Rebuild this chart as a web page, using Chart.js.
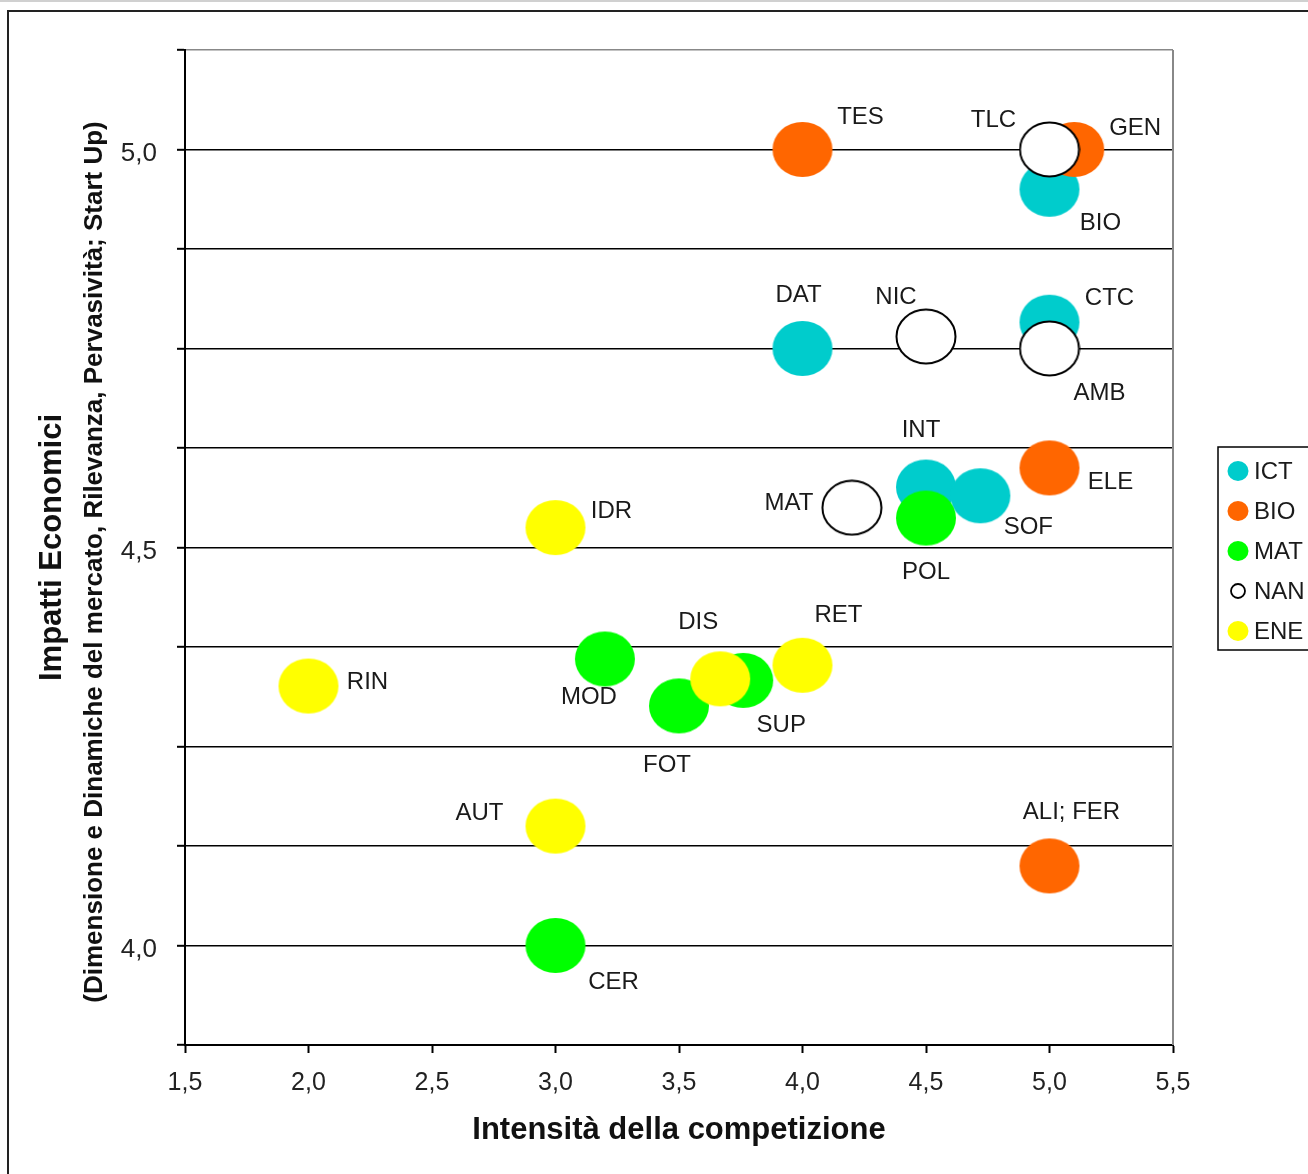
<!DOCTYPE html>
<html>
<head>
<meta charset="utf-8">
<script src="https://cdn.jsdelivr.net/npm/chart.js@4.4.1/dist/chart.umd.min.js"></script>
<style>
html,body{margin:0;padding:0;background:#fff;overflow:hidden;}
canvas{display:block;}
</style>
</head>
<body>
<canvas id="c" width="1308" height="1174"></canvas>
<script>
// ---------- DATA ----------
const categories = ['ICT', 'BIO', 'MAT', 'NAN', 'ENE'];

const ictNames = ['BIO', 'CTC', 'DAT', 'INT', 'SOF'];
const ictX     = [5.0, 5.0, 4.0, 4.5, 4.72];
const ictY     = [4.95, 4.783, 4.75, 4.576, 4.565];

const bioNames = ['TES', 'GEN', 'ELE', 'ALI; FER'];
const bioX     = [4.0, 5.1, 5.0, 5.0];
const bioY     = [5.0, 5.0, 4.6, 4.1];

const matNames = ['POL', 'MOD', 'SUP', 'FOT', 'CER'];
const matX     = [4.5, 3.2, 3.76, 3.5, 3.0];
const matY     = [4.537, 4.36, 4.333, 4.301, 4.0];

const nanNames = ['TLC', 'NIC', 'AMB', 'MAT'];
const nanX     = [5.0, 4.5, 5.0, 4.2];
const nanY     = [5.0, 4.765, 4.75, 4.55];

const eneNames = ['IDR', 'RIN', 'DIS', 'RET', 'AUT'];
const eneX     = [3.0, 2.0, 3.667, 4.0, 3.0];
const eneY     = [4.525, 4.326, 4.335, 4.352, 4.15];

const xTitle = 'Intensità della competizione';
const yTitleMain = 'Impatti Economici';
const yTitleSub = '(Dimensione e Dinamiche del mercato, Rilevanza, Pervasività; Start Up)';
const yLabelledTicks = [4.0, 4.5, 5.0];

// ---------- STYLE ----------
const seriesColors = ['#00CCCC', '#FF6600', '#00FF00', '#FFFFFF', '#FFFF00'];
const seriesStroke = [null, null, null, '#000000', null];
// text-centre offsets (px) of each point label relative to its point
const labelOffsets = {
  'TES': [58, -32], 'TLC': [-56, -29], 'GEN': [61, -21], 'BIO': [51, 34],
  'DAT': [-4, -53], 'NIC': [-30, -39], 'CTC': [60, -24], 'AMB': [50, 45],
  'INT': [-5, -57], 'ELE': [61, 14], 'SOF': [48, 32], 'MAT': [-63, -4],
  'POL': [0, 54], 'IDR': [56, -16], 'MOD': [-16, 38], 'DIS': [-22, -56],
  'SUP': [38, 45], 'RET': [36, -50], 'FOT': [-12, 59], 'RIN': [59, -4],
  'AUT': [-76, -13], 'ALI; FER': [22, -54], 'CER': [58, 37]
};
const FONT = "'Liberation Sans', Arial, Helvetica, sans-serif";
// trailing padding shifts the centred sub-title slightly downward, as in the reference
const ySubTitlePad = '    ';

function ellipseMarker(fill, stroke) {
  const c = document.createElement('canvas');
  c.width = 62; c.height = 57;
  const g = c.getContext('2d');
  g.beginPath();
  g.ellipse(31, 28.5, stroke ? 29.5 : 30, stroke ? 27 : 27.5, 0, 0, Math.PI * 2);
  g.fillStyle = fill;
  g.fill();
  if (stroke) { g.lineWidth = 2; g.strokeStyle = stroke; g.stroke(); }
  return c;
}

const seriesNames = [ictNames, bioNames, matNames, nanNames, eneNames];
const seriesX = [ictX, bioX, matX, nanX, eneX];
const seriesY = [ictY, bioY, matY, nanY, eneY];

const datasets = categories.map((cat, i) => ({
  label: cat,
  data: seriesX[i].map((x, j) => ({ x: x, y: seriesY[i][j] })),
  pointNames: seriesNames[i],
  pointStyle: ellipseMarker(seriesColors[i], seriesStroke[i]),
  pointRadius: 28,
  pointHoverRadius: 28,
  backgroundColor: seriesColors[i],
  borderColor: seriesStroke[i] || seriesColors[i],
  order: categories.length - i,
  showLine: false
}));

const framePlugin = {
  id: 'frame',
  beforeDraw(chart) {
    const ctx = chart.ctx;
    ctx.save();
    ctx.fillStyle = '#fff';
    ctx.fillRect(0, 0, chart.width, chart.height);
    ctx.fillStyle = '#d0d0d0';
    ctx.fillRect(0, 0, chart.width, 2);
    ctx.strokeStyle = '#222';
    ctx.lineWidth = 2;
    ctx.beginPath();
    ctx.moveTo(8, chart.height + 5);
    ctx.lineTo(8, 11);
    ctx.lineTo(chart.width + 5, 11);
    ctx.stroke();
    ctx.restore();
  },
  beforeDatasetsDraw(chart) {
    const ctx = chart.ctx, a = chart.chartArea;
    ctx.save();
    ctx.strokeStyle = '#888';
    ctx.lineWidth = 2;
    ctx.beginPath();
    ctx.moveTo(a.right, a.top);
    ctx.lineTo(a.right, a.bottom);
    ctx.stroke();
    ctx.restore();
  },
  afterDatasetsDraw(chart) {
    const ctx = chart.ctx;
    ctx.save();
    ctx.font = '24px ' + FONT;
    ctx.fillStyle = '#1a1a1a';
    ctx.textAlign = 'center';
    ctx.textBaseline = 'middle';
    chart.data.datasets.forEach((ds, di) => {
      const meta = chart.getDatasetMeta(di);
      meta.data.forEach((el, j) => {
        const name = ds.pointNames[j];
        const off = labelOffsets[name] || [0, -40];
        ctx.fillText(name, el.x + off[0], el.y + off[1]);
      });
    });
    // legend
    const lx = 1218, ly = 447, lh = 203;
    ctx.strokeStyle = '#000';
    ctx.lineWidth = 1.5;
    ctx.strokeRect(lx, ly, 200, lh);
    ctx.textAlign = 'left';
    ctx.font = '24px ' + FONT;
    chart.data.datasets.forEach((ds, i) => {
      const cy = 471 + i * 40;
      ctx.beginPath();
      if (seriesStroke[i]) {
        ctx.arc(1238, cy, 7, 0, Math.PI * 2);
        ctx.fillStyle = seriesColors[i];
        ctx.fill();
        ctx.lineWidth = 1.8;
        ctx.strokeStyle = seriesStroke[i];
        ctx.stroke();
      } else {
        ctx.ellipse(1238, cy, 10.5, 10, 0, 0, Math.PI * 2);
        ctx.fillStyle = seriesColors[i];
        ctx.fill();
      }
      ctx.fillStyle = '#1a1a1a';
      ctx.fillText(ds.label, 1254, cy + 1);
    });
    ctx.restore();
  }
};

new Chart(document.getElementById('c'), {
  type: 'scatter',
  data: { datasets: datasets },
  plugins: [framePlugin],
  options: {
    responsive: false,
    animation: false,
    devicePixelRatio: 1,
    layout: { padding: { left: 0, right: 135, top: 50, bottom: 0 } },
    plugins: { legend: { display: false }, tooltip: { enabled: false } },
    scales: {
      x: {
        type: 'linear',
        min: 1.5, max: 5.5,
        ticks: {
          stepSize: 0.5,
          color: '#222',
          font: { family: FONT, size: 25 },
          padding: 15,
          callback: v => v.toFixed(1).replace('.', ',')
        },
        grid: { drawOnChartArea: false, drawTicks: true, tickLength: 8, tickColor: '#000', tickWidth: 2 },
        border: { display: true, color: '#000', width: 2 },
        title: {
          display: true, text: xTitle, color: '#111',
          font: { family: FONT, size: 31, weight: 'bold' },
          padding: { top: 0, bottom: 25 }
        },
        afterFit: s => { s.height = 129; }
      },
      y: {
        type: 'linear',
        position: 'left',
        weight: 0,
        min: 3.875, max: 5.125,
        ticks: {
          stepSize: 0.125,
          color: '#222',
          font: { family: FONT, size: 26 },
          padding: 20,
          labelOffset: 4,
          callback: v => yLabelledTicks.some(t => Math.abs(t - v) < 1e-6) ? v.toFixed(1).replace('.', ',') : ''
        },
        grid: {
          color: c => (c.tick && Math.abs(c.tick.value - 5.125) < 1e-6) ? '#888' : '#000',
          lineWidth: 1.6,
          tickLength: 8, tickColor: '#000', tickWidth: 2
        },
        border: { display: true, color: '#000', width: 2 },
        title: {
          display: true, text: yTitleSub + ySubTitlePad, color: '#111',
          font: { family: FONT, size: 26, weight: 'bold' },
          padding: { top: 4, bottom: 0 }
        },
        afterFit: s => { s.width = 110; }
      },
      y2: {
        type: 'linear',
        position: 'left',
        weight: 1,
        min: 0, max: 1,
        ticks: { display: false },
        grid: { display: false, drawTicks: false },
        border: { display: false },
        title: {
          display: true, text: yTitleMain, color: '#111',
          font: { family: FONT, size: 31, weight: 'bold' },
          padding: { top: 34, bottom: 0 }
        },
        afterFit: s => { s.width = 75; }
      }
    }
  }
});
</script>
</body>
</html>
